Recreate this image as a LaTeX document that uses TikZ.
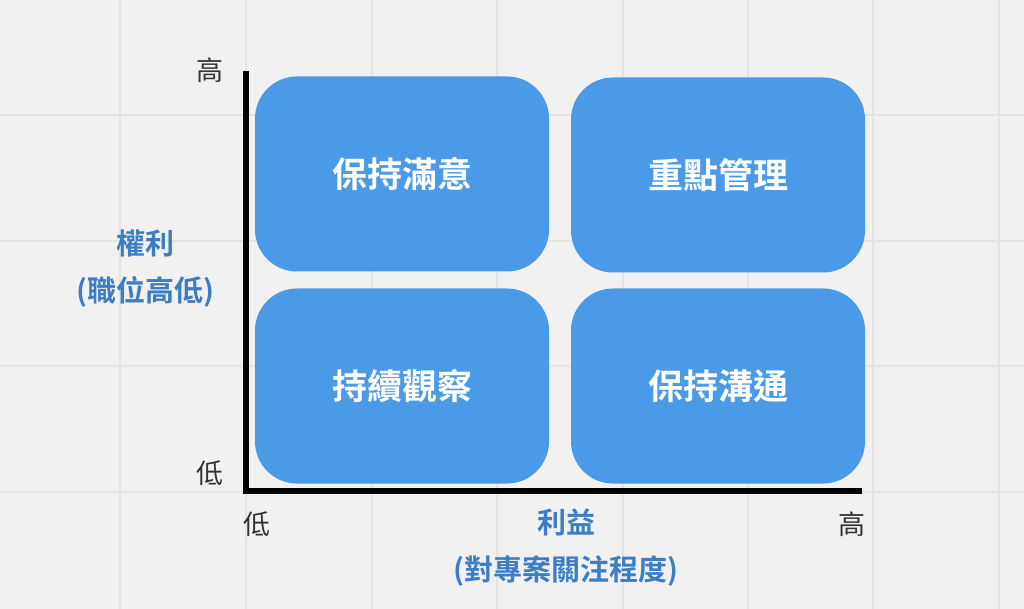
\documentclass[tikz,border=0pt]{standalone}
\usepackage{fontspec}
\setmainfont{Noto Sans CJK TC}[BoldFont={Noto Sans CJK TC Bold}]
\usepackage{xcolor}
\usetikzlibrary{positioning}
\definecolor{boxblue}{HTML}{4A9AE8}
\definecolor{axisblue}{HTML}{3C7DC4}
\definecolor{gridgray}{HTML}{E4E4E4}
\definecolor{paper}{HTML}{F1F1F1}
\definecolor{tickgray}{HTML}{333333}

\begin{document}
\begin{tikzpicture}[x=1pt,y=-1pt,
  quad/.style={fill=boxblue,rounded corners=42pt,minimum width=294pt,minimum height=195pt,
    inner sep=0pt,text=white,font=\fontsize{35}{40}\selectfont\bfseries},
  tick/.style={text=tickgray,font=\fontsize{27}{32}\selectfont,inner sep=0pt},
  axistitle/.style={text=axisblue,align=center,font=\fontsize{29}{47}\selectfont\bfseries,inner sep=0pt}]
\fill[paper] (0,0) rectangle (1024,609);
\useasboundingbox (0,0) rectangle (1024,609);
% grid
\foreach \gx in {-5,120,246,372,497,623,748,873,999}
  \draw[gridgray,line width=1.5pt] (\gx,0)--(\gx,609);
\foreach \gy in {-10,115,241,366,492,617}
  \draw[gridgray,line width=1.5pt] (0,\gy)--(1024,\gy);
% quadrants
\node[quad] (satisfy) at (402,174){保持滿意};
\node[quad] (manage) at (718,175){重點管理};
\node[quad] (monitor) at (402,386){持續觀察};
\node[quad] (inform) at (718,386){保持溝通};
% axes
\coordinate (origin) at (246,491);
\coordinate (ytop) at (246,71);
\coordinate (xend) at (862,491);
\draw[line width=6pt] (ytop)--(origin)--(xend);
\node[tick] (yhigh) at (210,70){高};
\node[tick] (ylow) at (210,473){低};
\node[tick] (xlow) at (257,524){低};
\node[tick] (xhigh) at (852,524){高};
\node[axistitle] (ytitle) at (145,269){權利\\(職位高低)};
\node[axistitle] (xtitle) at (566,548){利益\\(對專案關注程度)};
\end{tikzpicture}
\end{document}
